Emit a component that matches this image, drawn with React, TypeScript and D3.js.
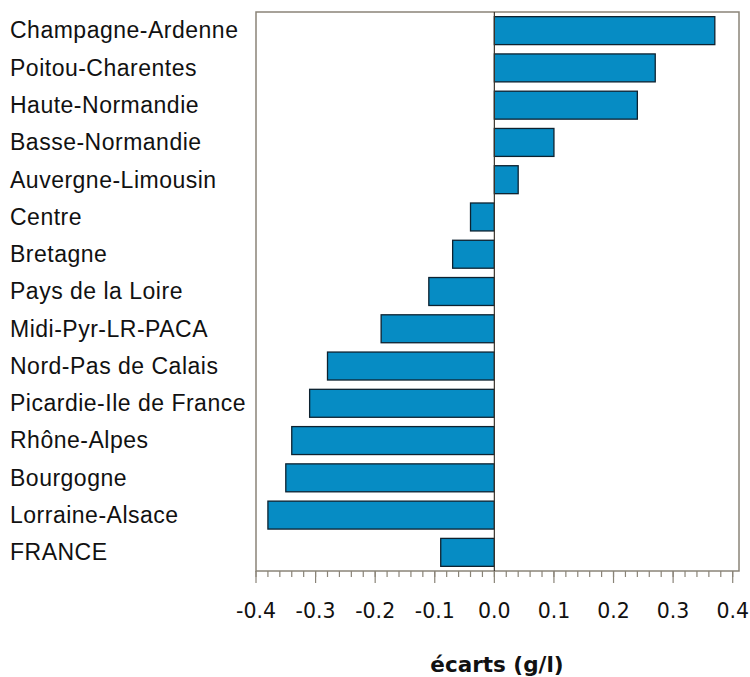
import React from "react";
import * as d3 from "d3";

const regions = [
  "Champagne-Ardenne",
  "Poitou-Charentes",
  "Haute-Normandie",
  "Basse-Normandie",
  "Auvergne-Limousin",
  "Centre",
  "Bretagne",
  "Pays de la Loire",
  "Midi-Pyr-LR-PACA",
  "Nord-Pas de Calais",
  "Picardie-Ile de France",
  "Rhône-Alpes",
  "Bourgogne",
  "Lorraine-Alsace",
  "FRANCE",
];

const ecarts = [0.37, 0.27, 0.24, 0.1, 0.04, -0.04, -0.07, -0.11, -0.19, -0.28, -0.31, -0.34, -0.35, -0.38, -0.09];

const majorTicks = [-0.4, -0.3, -0.2, -0.1, 0.0, 0.1, 0.2, 0.3, 0.4];

const W = 750;
const H = 677;
const margin = { left: 256, right: 11, top: 12, bottom: 106 };
const labelFont = "'Liberation Sans', Arial, sans-serif";
const axisFont = "'DejaVu Sans', Verdana, sans-serif";

export default function App() {
  const plotRight = W - margin.right;
  const plotBottom = H - margin.bottom;

  // 0.1 units ~ 59.6px, -0.4 sits on the left frame edge
  const x = d3.scaleLinear().domain([-0.4, 0.4]).range([256, 732.7]);
  const y = d3
    .scaleBand<string>()
    .domain(regions)
    .range([margin.top, plotBottom])
    .paddingInner(0.25)
    .paddingOuter(0.125);

  const minorTicks = d3.range(-0.4, 0.4001, 0.02).map((v) => Math.round(v * 100) / 100);

  return (
    <svg
      width={W}
      height={H}
      style={{ position: "absolute", left: 0, top: 0, background: "#fff" }}
    >
      {/* frame */}
      <rect
        x={margin.left}
        y={margin.top}
        width={plotRight - margin.left}
        height={plotBottom - margin.top}
        fill="#fff"
        stroke="#8a8478"
        strokeWidth={1.5}
      />

      {/* bars */}
      {regions.map((r, i) => {
        const v = ecarts[i];
        const x0 = x(Math.min(0, v));
        const x1 = x(Math.max(0, v));
        return (
          <rect
            key={r}
            x={x0}
            y={y(r)}
            width={x1 - x0}
            height={y.bandwidth()}
            fill="#068cc4"
            stroke="#0d2230"
            strokeWidth={1.3}
          />
        );
      })}

      {/* zero line */}
      <line
        x1={x(0)}
        x2={x(0)}
        y1={margin.top}
        y2={plotBottom}
        stroke="#3a342c"
        strokeWidth={1.2}
      />

      {/* category labels */}
      {regions.map((r) => (
        <text
          key={r}
          x={10}
          y={(y(r) ?? 0) + y.bandwidth() / 2}
          dy="0.34em"
          fontFamily={labelFont}
          fontSize={23}
          letterSpacing={0.5}
          fill="#111"
        >
          {r}
        </text>
      ))}

      {/* x ticks */}
      {minorTicks.map((t) => (
        <line
          key={"m" + t}
          x1={x(t)}
          x2={x(t)}
          y1={plotBottom}
          y2={plotBottom + 6}
          stroke="#8a8478"
          strokeWidth={1.2}
        />
      ))}
      {majorTicks.map((t) => (
        <g key={"M" + t}>
          <line
            x1={x(t)}
            x2={x(t)}
            y1={plotBottom}
            y2={plotBottom + 12}
            stroke="#8a8478"
            strokeWidth={1.2}
          />
          <text
            x={x(t)}
            y={618}
            textAnchor="middle"
            fontFamily={axisFont}
            fontSize={20.5}
            fill="#111"
          >
            {t.toFixed(1)}
          </text>
        </g>
      ))}

      {/* axis title */}
      <text
        x={497}
        y={672}
        textAnchor="middle"
        fontFamily={axisFont}
        fontSize={21.5}
        fontWeight="bold"
        fill="#111"
      >
        écarts (g/l)
      </text>
    </svg>
  );
}
